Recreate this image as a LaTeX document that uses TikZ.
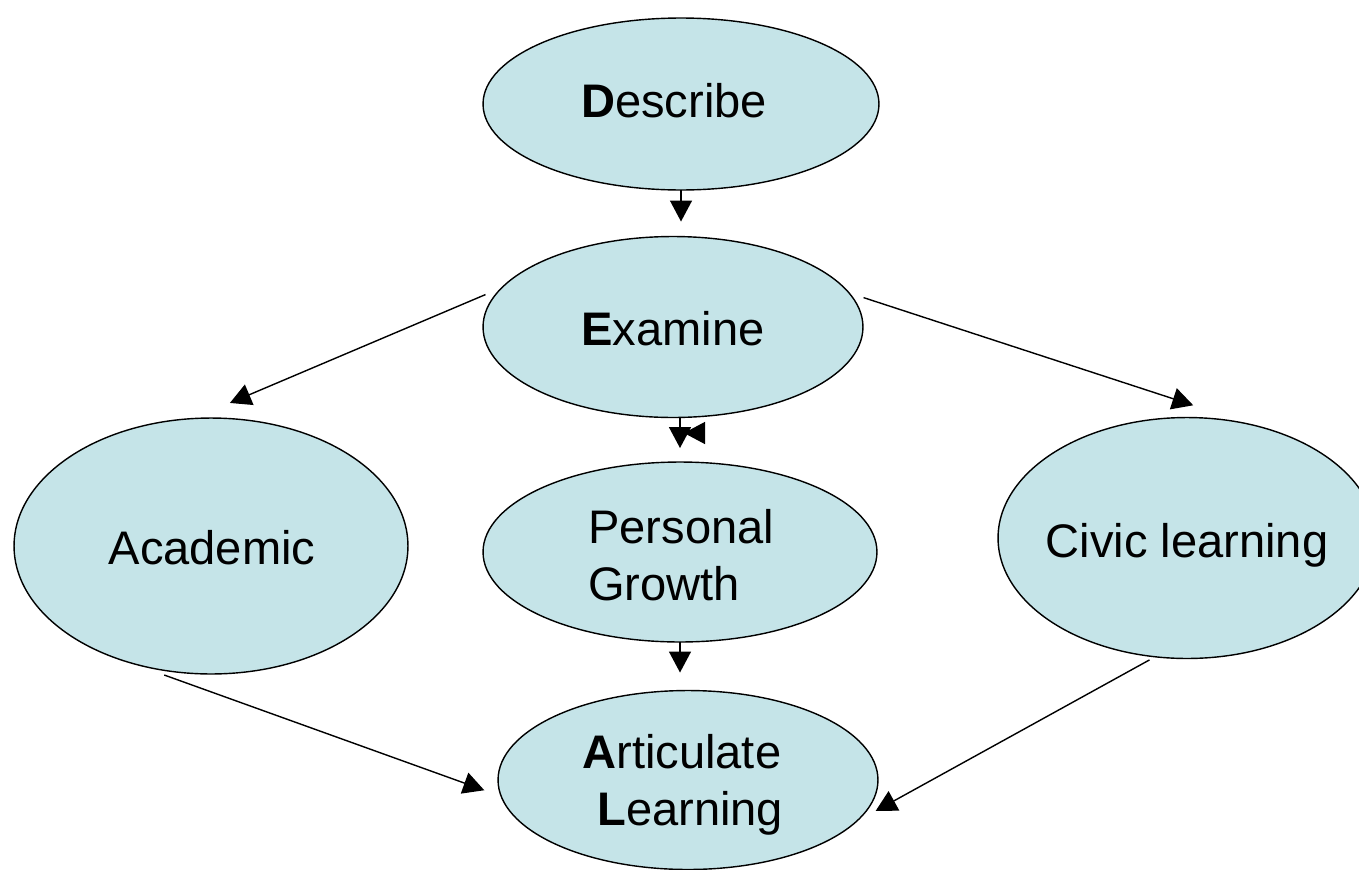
\documentclass[tikz,border=0pt]{standalone}
\usepackage{fontspec}
\setmainfont{Liberation Sans}
\usetikzlibrary{shapes.geometric,arrows.meta}
\definecolor{bubblefill}{RGB}{197,228,232}
\begin{document}
\begin{tikzpicture}[x=0.02cm,y=-0.02cm,
  bubble/.style={ellipse,draw=black,line width=0.8pt,fill=bubblefill,inner sep=0pt,outer sep=0pt},
  word/.style={font=\fontsize{26.8}{32}\selectfont,inner sep=0pt,anchor=base},
  wordleft/.style={word,anchor=base west},
  arr/.style={-{Triangle[length=0.42cm,width=0.44cm]},line width=0.8pt}]
\useasboundingbox (0,0) rectangle (1359,869);
\clip (0,0) rectangle (1359,869);

% stages
\node[bubble,minimum width=7.92cm,minimum height=3.44cm] (describe) at (681,104) {};
\node[bubble,minimum width=7.6cm,minimum height=3.62cm] (examine) at (673,327) {};
\node[bubble,minimum width=7.88cm,minimum height=5.12cm] (academic) at (211,546) {};
\node[bubble,minimum width=7.88cm,minimum height=3.6cm] (personal) at (680,552) {};
\node[bubble,minimum width=7.56cm,minimum height=4.82cm] (civic) at (1187,538) {};
\node[bubble,minimum width=7.6cm,minimum height=3.58cm] (articulate) at (688,780) {};

% labels
\node[word] (describe-t) at (674,117) {\textbf{D}escribe};
\node[word] (examine-t) at (673,345) {\textbf{E}xamine};
\node[word] (academic-t) at (212,564) {Academic};
\node[wordleft] (personal-t1) at (588,543) {Personal};
\node[wordleft] (personal-t2) at (588,600) {Growth};
\node[word] (civic-t) at (1187,557) {Civic learning};
\node[wordleft] (articulate-t1) at (582,768) {\textbf{A}rticulate};
\node[wordleft] (articulate-t2) at (597,825) {\textbf{L}earning};

% connectors
\draw[arr,shorten >=0.3cm] (describe.south) -- (describe.south |- examine.north);
\draw[arr,shorten >=0.28cm] (personal.north |- examine.south) -- (personal.north);
\draw[arr,shorten >=0.36cm] (personal.south) -- (personal.south |- articulate.north);
\draw[arr,shorten <=0.36cm,shorten >=0.8cm] (examine.167.6) -- (academic.98);
\draw[arr,shorten <=0.31cm,shorten >=1.34cm] (examine.11.6) -- (civic.58.24);
\draw[arr,shorten <=0.74cm,shorten >=0.36cm] (academic.235.8) -- (articulate.185.9);
\draw[arr,shorten <=0.13cm,shorten >=0.45cm] (civic.255.2) -- (articulate.346.85);

% extra head beside the Examine outlet
\coordinate (stray-from) at (704,433);
\coordinate (stray-to) at (684,433);
\draw[arr] (stray-from) -- (stray-to);
\end{tikzpicture}
\end{document}
